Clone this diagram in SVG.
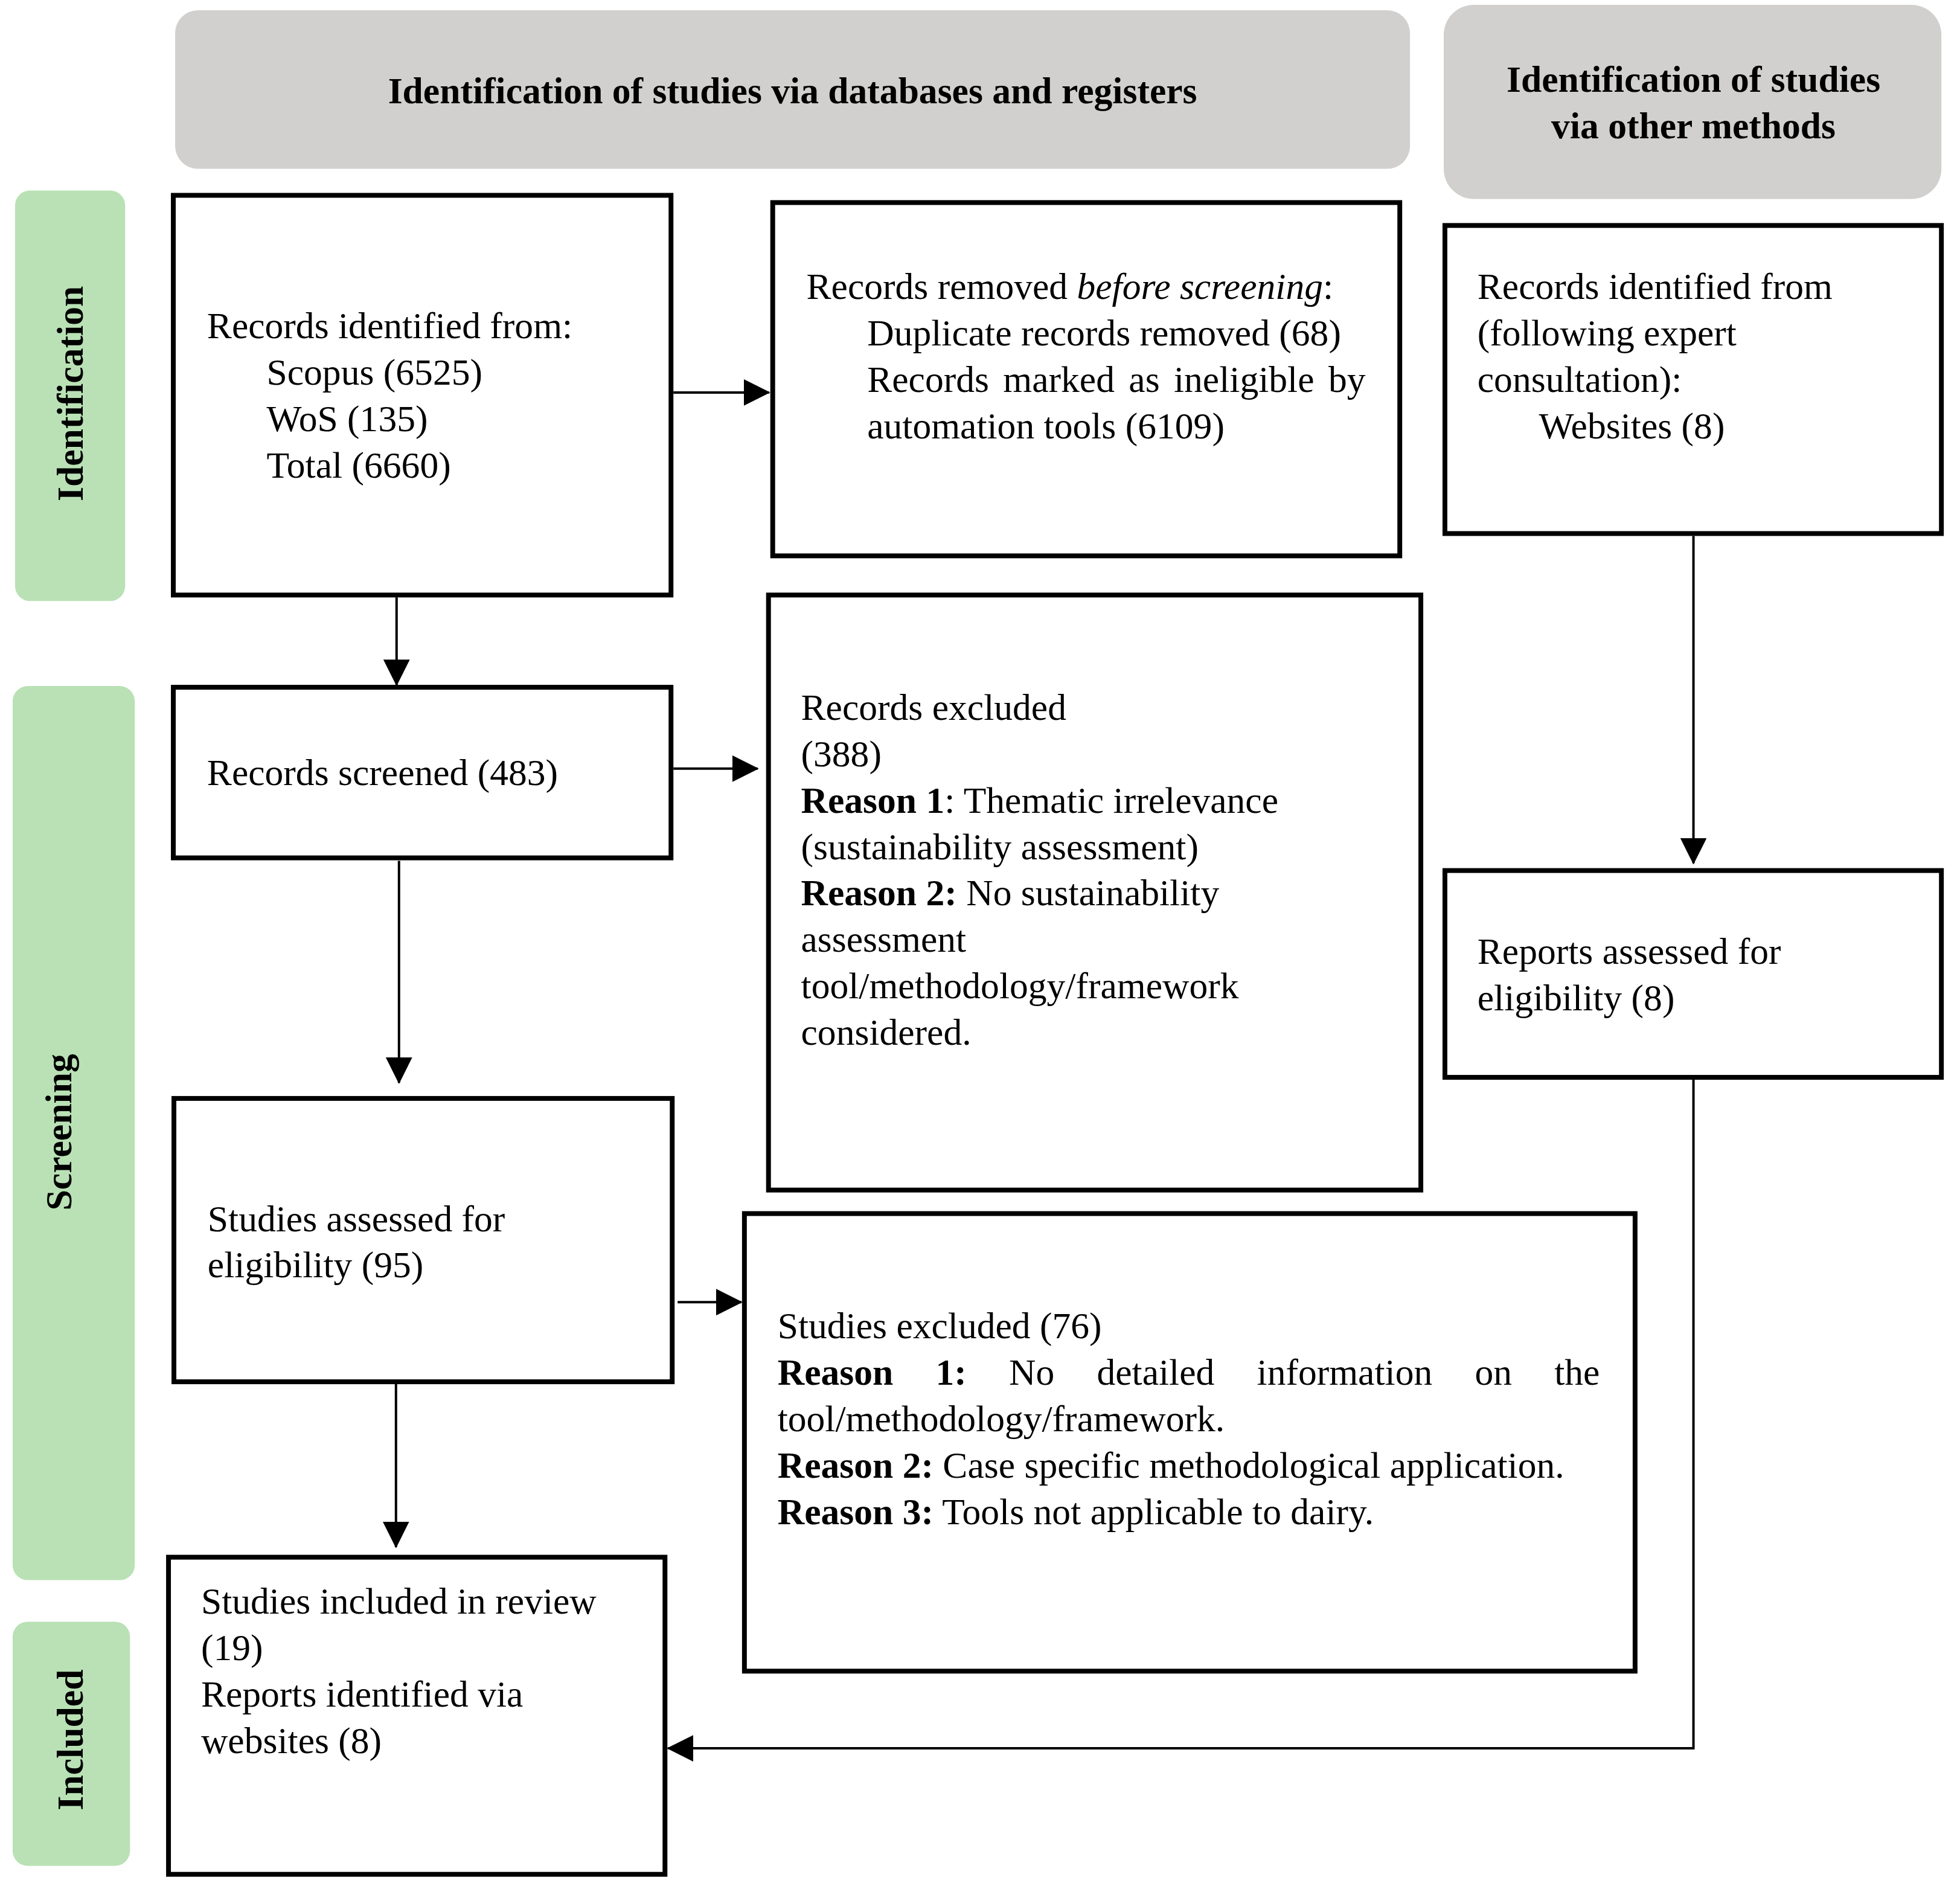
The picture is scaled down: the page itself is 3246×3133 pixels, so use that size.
<svg xmlns="http://www.w3.org/2000/svg" width="3246" height="3133" viewBox="0 0 3246 3133">
<style>
.box{fill:#fff;stroke:#000;stroke-width:8}
.hdr{fill:#d1d0ce}
.side{fill:#b9e1b5}
text{font-family:"Liberation Serif","Times New Roman",serif;font-size:61.8px;fill:#000}
.b{font-weight:bold}
.i{font-style:italic}
.conn line,.conn path{stroke:#000;stroke-width:4;fill:none}
</style>
<defs>
<marker id="ah" markerUnits="userSpaceOnUse" markerWidth="44" markerHeight="44" refX="42" refY="22" orient="auto" viewBox="0 0 44 44">
<path d="M0,0 L44,22 L0,44 Z" fill="#000"/>
</marker>
</defs>
<rect width="3246" height="3133" fill="#fff"/>
<g transform="scale(0.99665,0.9983)">

<g id="header-databases">
<rect class="hdr" x="291" y="17" width="2052" height="263" rx="38" ry="38"/>
<text class="b" x="1317" y="171" text-anchor="middle">Identification of studies via databases and registers</text>
</g>
<g id="header-other">
<rect class="hdr" x="2399" y="8" width="827" height="322" rx="50" ry="50"/>
<text class="b" x="2814" y="152" text-anchor="middle">Identification of studies</text>
<text class="b" x="2814" y="229" text-anchor="middle">via other methods</text>
</g>

<g id="phase-identification">
<rect class="side" x="25" y="316" width="183" height="681" rx="25" ry="25"/>
<text class="b" transform="translate(137,653) rotate(-90)" text-anchor="middle">Identification</text>
</g>
<g id="phase-screening">
<rect class="side" x="21" y="1138" width="203" height="1483" rx="25" ry="25"/>
<text class="b" transform="translate(118,1878) rotate(-90)" text-anchor="middle">Screening</text>
</g>
<g id="phase-included">
<rect class="side" x="21" y="2690" width="195" height="405" rx="25" ry="25"/>
<text class="b" transform="translate(137,2886) rotate(-90)" text-anchor="middle">Included</text>
</g>

<g id="records-identified">
<rect class="box" x="288" y="324" width="827" height="663"/>
<text x="344" y="561">Records identified from:</text>
<text x="443" y="638">Scopus (6525)</text>
<text x="443" y="715">WoS (135)</text>
<text x="443" y="792">Total (6660)</text>
</g>

<g id="records-removed">
<rect class="box" x="1284" y="336" width="1042" height="586"/>
<text x="1340" y="496">Records removed <tspan class="i">before screening</tspan>:</text>
<text x="1441" y="573">Duplicate records removed (68)</text>
<text x="1441" y="650" word-spacing="8">Records marked as ineligible by</text>
<text x="1441" y="727">automation tools (6109)</text>
</g>

<g id="records-other">
<rect class="box" x="2401" y="374" width="825" height="511"/>
<text x="2455" y="496">Records identified from</text>
<text x="2455" y="573">(following expert</text>
<text x="2455" y="650">consultation):</text>
<text x="2557" y="727">Websites (8)</text>
</g>

<g id="records-screened">
<rect class="box" x="288" y="1140" width="827" height="283"/>
<text x="344" y="1302">Records screened (483)</text>
</g>

<g id="records-excluded">
<rect class="box" x="1277" y="987" width="1084" height="987"/>
<text x="1331" y="1194">Records excluded</text>
<text x="1331" y="1271">(388)</text>
<text x="1331" y="1348"><tspan class="b">Reason 1</tspan>: Thematic irrelevance</text>
<text x="1331" y="1425">(sustainability assessment)</text>
<text x="1331" y="1502"><tspan class="b">Reason 2:</tspan> No sustainability</text>
<text x="1331" y="1579">assessment</text>
<text x="1331" y="1656">tool/methodology/framework</text>
<text x="1331" y="1733">considered.</text>
</g>

<g id="reports-assessed">
<rect class="box" x="2401" y="1444" width="825" height="343"/>
<text x="2455" y="1599">Reports assessed for</text>
<text x="2455" y="1676">eligibility (8)</text>
</g>

<g id="studies-assessed">
<rect class="box" x="289" y="1822" width="828" height="470"/>
<text x="345" y="2042">Studies assessed for</text>
<text x="345" y="2119">eligibility (95)</text>
</g>

<g id="studies-excluded">
<rect class="box" x="1237" y="2013" width="1480" height="759"/>
<text x="1292" y="2220">Studies excluded (76)</text>
<text x="1292" y="2297" word-spacing="55"><tspan class="b">Reason 1:</tspan> No detailed information on the</text>
<text x="1292" y="2374">tool/methodology/framework.</text>
<text x="1292" y="2451"><tspan class="b">Reason 2:</tspan> Case specific methodological application.</text>
<text x="1292" y="2528"><tspan class="b">Reason 3:</tspan> Tools not applicable to dairy.</text>
</g>

<g id="studies-included">
<rect class="box" x="280" y="2583" width="825" height="526"/>
<text x="334" y="2677">Studies included in review</text>
<text x="334" y="2754">(19)</text>
<text x="334" y="2831">Reports identified via</text>
<text x="334" y="2908">websites (8)</text>
</g>

<g class="conn" id="connectors">
<line x1="1119" y1="651" x2="1278" y2="651" marker-end="url(#ah)"/>
<line x1="659" y1="991" x2="659" y2="1136" marker-end="url(#ah)"/>
<line x1="1119" y1="1275" x2="1259" y2="1275" marker-end="url(#ah)"/>
<line x1="663" y1="1428" x2="663" y2="1796" marker-end="url(#ah)"/>
<line x1="1126" y1="2160" x2="1232" y2="2160" marker-end="url(#ah)"/>
<line x1="658" y1="2296" x2="658" y2="2566" marker-end="url(#ah)"/>
<line x1="2814" y1="889" x2="2814" y2="1432" marker-end="url(#ah)"/>
<path d="M2814,1791 L2814,2900 L1110,2900" marker-end="url(#ah)"/>
</g>
</g>
</svg>
